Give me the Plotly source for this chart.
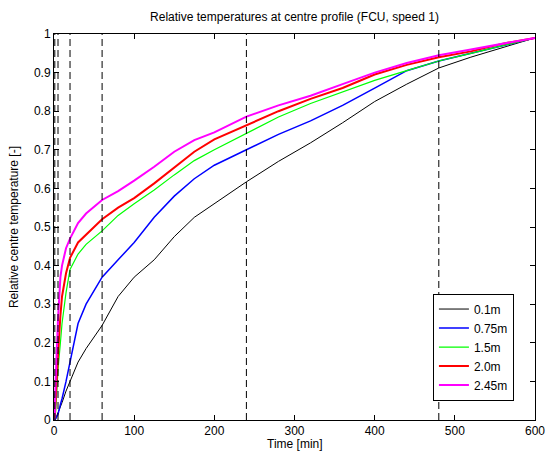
#!/usr/bin/env python3
# Relative centre temperatures at several heights (FCU, speed 1)
import plotly.graph_objects as go

# time axis shared by all heights [min]
time_min = [0, 1, 2, 3, 5, 8, 10, 15, 20, 30, 40, 60, 80, 100, 125, 150,
            175, 200, 240, 280, 320, 360, 400, 440, 480, 520, 560, 600]

# relative temperature per height
t_0_1 = [0, 0, 0.003, 0.008, 0.02, 0.035, 0.045, 0.075, 0.10, 0.15, 0.185, 0.245,
         0.32, 0.37, 0.415, 0.475, 0.525, 0.56, 0.617, 0.67, 0.718, 0.77, 0.825,
         0.87, 0.912, 0.94, 0.965, 0.99]
t_0_75 = [0, 0, 0.003, 0.008, 0.015, 0.04, 0.055, 0.10, 0.15, 0.25, 0.30, 0.37,
          0.415, 0.46, 0.525, 0.58, 0.625, 0.66, 0.70, 0.74, 0.775, 0.815, 0.86,
          0.905, 0.93, 0.95, 0.97, 0.99]
t_1_5 = [0, 0.005, 0.02, 0.06, 0.13, 0.20, 0.25, 0.33, 0.39, 0.43, 0.455, 0.49,
         0.53, 0.56, 0.596, 0.635, 0.672, 0.70, 0.743, 0.785, 0.82, 0.85, 0.88,
         0.905, 0.93, 0.95, 0.97, 0.99]
t_2_0 = [0, 0.01, 0.05, 0.10, 0.17, 0.27, 0.32, 0.38, 0.42, 0.46, 0.48, 0.52,
         0.55, 0.575, 0.613, 0.655, 0.695, 0.727, 0.764, 0.80, 0.832, 0.86, 0.895,
         0.92, 0.94, 0.955, 0.975, 0.99]
t_2_45 = [0, 0.02, 0.10, 0.17, 0.26, 0.37, 0.40, 0.445, 0.47, 0.51, 0.535, 0.57,
          0.593, 0.62, 0.656, 0.695, 0.725, 0.745, 0.786, 0.815, 0.84, 0.87, 0.90,
          0.925, 0.945, 0.96, 0.975, 0.99]

series = [
    ("0.1m", t_0_1, "black", 1),
    ("0.75m", t_0_75, "#0000ff", 1.5),
    ("1.5m", t_1_5, "#00ff00", 1.2),
    ("2.0m", t_2_0, "#ff0000", 2),
    ("2.45m", t_2_45, "#ff00ff", 2),
]

# times marked with dashed lines [min]
marker_times = [1, 5, 20, 60, 240, 480]

fig = go.Figure()

for t in marker_times:
    fig.add_vline(x=t, line=dict(color="black", width=1, dash="7px,4px"))

for name, vals, col, w in series:
    fig.add_trace(go.Scatter(x=time_min, y=vals, mode="lines", name=name,
                             line=dict(color=col, width=w)))

axis_style = dict(showline=True, linecolor="black", linewidth=1, mirror="ticks",
                  ticks="inside", ticklen=5, tickcolor="black", showgrid=False,
                  zeroline=False, automargin=False, ticklabeloverflow="allow",
                  tickfont=dict(size=12, color="black"))

fig.update_layout(
    width=546, height=460,
    margin=dict(l=54, r=11, t=34, b=40),
    paper_bgcolor="white", plot_bgcolor="white",
    font=dict(family="Liberation Sans, Arial, sans-serif", size=12, color="black"),
    title=dict(text="Relative temperatures at centre profile (FCU, speed 1)",
               x=0.5, xref="paper", y=0.963, yanchor="middle",
               font=dict(size=12)),
    xaxis=dict(range=[0, 600], dtick=100, **axis_style),
    yaxis=dict(range=[0, 1], dtick=0.1, **axis_style),
    legend=dict(x=0.872, y=0.189, xanchor="center", yanchor="middle",
                bgcolor="white", bordercolor="black", borderwidth=1,
                font=dict(size=12), itemwidth=30, tracegroupgap=0),
    showlegend=True,
    annotations=[
        dict(text="Time [min]", xref="paper", yref="paper", x=0.5, y=-0.062,
             xanchor="center", yanchor="middle", showarrow=False,
             font=dict(size=12)),
        dict(text="Relative centre temperature [-]", xref="paper", yref="paper",
             x=-0.083, y=0.5, xanchor="center", yanchor="middle", textangle=-90,
             showarrow=False, font=dict(size=12)),
    ],
)

# drop the default page margin so the figure fills the window exactly
fig.write_html("out.html", config={"displayModeBar": False},
               post_script="document.body.style.margin='0';"
                           "document.body.style.overflow='hidden';")
